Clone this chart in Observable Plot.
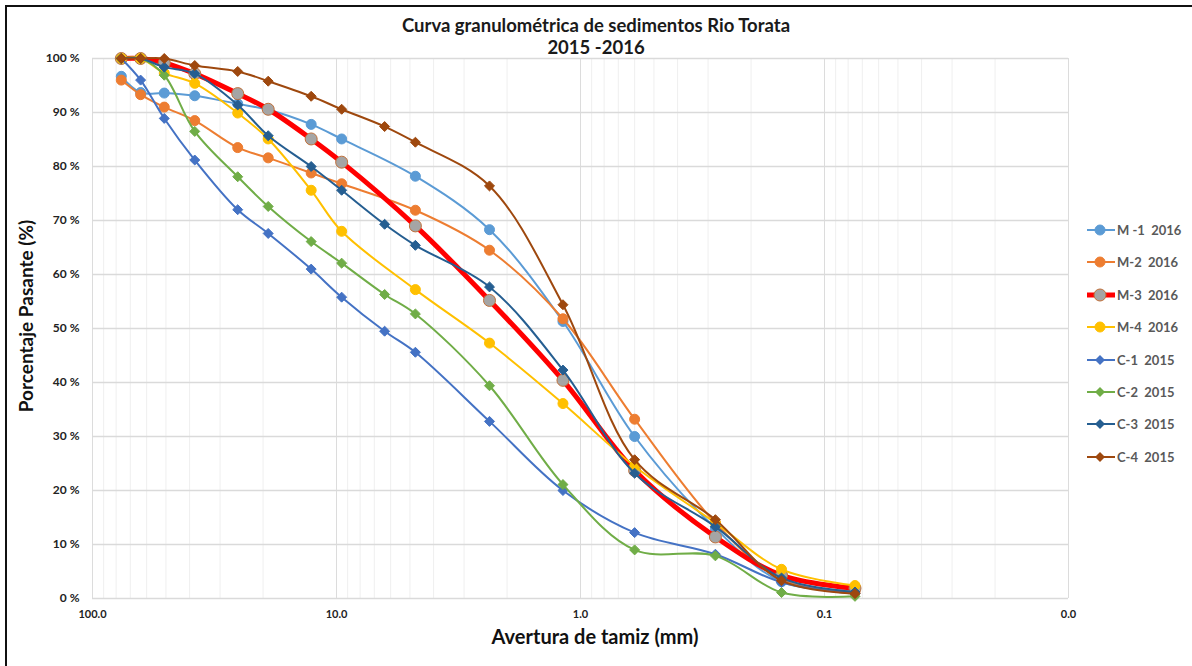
<!DOCTYPE html>
<html>
<head>
<meta charset="utf-8">
<script src="https://cdn.jsdelivr.net/npm/d3@7"></script>
<script src="https://cdn.jsdelivr.net/npm/@observablehq/plot@0.6"></script>
<style>
  body { margin: 0; background: #fff; overflow: hidden; }
  #wrap { position: relative; width: 1192px; height: 666px; overflow: hidden; font-family: Lato, "Open Sans", sans-serif; }
  #frame { position: absolute; left: 5px; top: 5px; width: 1250px; height: 720px; border: 2px solid #111; box-sizing: border-box; pointer-events: none; }
  .title { position: absolute; left: 0; width: 1192px; text-align: center; font-weight: 700; font-size: 18.5px; color: #1a1a1a; line-height: 22px; }
  .axlabel { position: absolute; font-weight: 700; color: #111; white-space: nowrap; }
  #legend { position: absolute; left: 1086px; top: 220px; }
  .item { position: absolute; left: 0; height: 20px; display: flex; align-items: center; white-space: pre; font-weight: 700; font-size: 13px; color: #595959; }
  .item svg { margin-right: 1px; }
  #chart { position: absolute; left: 0; top: 0; }
</style>
</head>
<body>
<div id="wrap">
  <div id="chart"></div>
  <div class="title" style="top:14px">Curva granulométrica de sedimentos Rio Torata</div>
  <div class="title" style="top:36px">2015 -2016</div>
  <div class="axlabel" style="left:595px;top:624px;font-size:20px;transform:translateX(-50%)">Avertura de tamiz (mm)</div>
  <div class="axlabel" style="left:25px;top:316px;font-size:19px;transform:translate(-50%,-50%) rotate(-90deg)">Porcentaje Pasante (%)</div>
  <div id="legend"></div>
  <div id="frame"></div>
</div>
<script>
// Sieve openings (mm); the 2016 samples skip the 6.35 mm sieve
const sizesC = [76.2, 63.5, 50.8, 38.1, 25.4, 19.05, 12.7, 9.525, 6.35, 4.75, 2.36, 1.18, 0.6, 0.28, 0.15, 0.075];
const sizesM = [76.2, 63.5, 50.8, 38.1, 25.4, 19.05, 12.7, 9.525, 4.75, 2.36, 1.18, 0.6, 0.28, 0.15, 0.075];

// Percent passing per sample
const m1 = [96.7, 93.7, 93.6, 93.1, 91.6, 90.5, 87.8, 85.1, 78.2, 68.3, 51.3, 30.0, 13.0, 3.1, 1.5];
const m2 = [96.0, 93.3, 91.0, 88.5, 83.5, 81.6, 78.8, 76.8, 71.9, 64.5, 51.8, 33.2, 14.0, 3.5, 1.2];
const m3 = [100, 100, 99.2, 97.2, 93.5, 90.6, 85.1, 80.8, 69.0, 55.2, 40.4, 23.7, 11.4, 4.3, 1.9];
const m4 = [100, 100, 97.3, 95.4, 89.9, 85.1, 75.6, 68.0, 57.2, 47.3, 36.1, 24.5, 14.0, 5.4, 2.4];
const c1 = [100, 96.0, 88.9, 81.2, 72.0, 67.6, 61.0, 55.8, 49.5, 45.6, 32.8, 20.0, 12.2, 8.2, 3.0, 0.9];
const c2 = [100, 100, 96.9, 86.5, 78.1, 72.6, 66.1, 62.1, 56.3, 52.7, 39.4, 21.1, 9.0, 7.9, 1.1, 0.4];
const c3 = [100, 100, 98.4, 97.2, 91.4, 85.7, 80.0, 75.6, 69.3, 65.4, 57.7, 42.3, 23.2, 13.3, 3.8, 1.2];
const c4 = [100, 100, 100, 98.7, 97.6, 95.8, 93.0, 90.6, 87.4, 84.5, 76.4, 54.4, 25.7, 14.6, 3.3, 0.9];

const seriesNames = ["M -1  2016", "M-2  2016", "M-3  2016", "M-4  2016", "C-1  2015", "C-2  2015", "C-3  2015", "C-4  2015"];
const seriesValues = [m1, m2, m3, m4, c1, c2, c3, c4];
const seriesSizes = [sizesM, sizesM, sizesM, sizesM, sizesC, sizesC, sizesC, sizesC];
const seriesColors = ["#5B9BD5", "#ED7D31", "#FF0000", "#FFC000", "#4472C4", "#70AD47", "#255E91", "#9E480E"];

const xTicks = [100, 10, 1, 0.1, 0.01];
const yTicks = d3.range(0, 101, 10);

// Log grid: 1..9 within each decade from 0.01 to 100
const minorGrid = [];
for (let e = -2; e <= 1; e++) for (let k = 1; k <= 9; k++) minorGrid.push(k * Math.pow(10, e));
minorGrid.push(100);

const style = (i) => {
  const isM = i < 4;
  const c = seriesColors[i];
  return {
    lineWidth: i === 2 ? 5 : 2,
    symbol: isM ? "circle" : "diamond2",
    r: i === 2 ? 6 : (isM ? 5 : 4.5),
    fill: i === 2 ? "#A5A5A5" : c,
    stroke: i === 2 ? "#C0703A" : c
  };
};

const marks = [
  Plot.ruleX(minorGrid, {stroke: "#efefef", strokeWidth: 1}),
  Plot.ruleX(xTicks, {stroke: "#dcdcdc", strokeWidth: 1}),
  Plot.ruleY(yTicks, {stroke: "#dadada", strokeWidth: 1.3}),
  Plot.axisX({ticks: xTicks, tickFormat: d => d.toFixed(1), tickSize: 0, tickPadding: 12, fontSize: 11, fontWeight: "bold", label: null}),
  Plot.axisY({ticks: yTicks, tickFormat: d => d + " %", tickSize: 0, tickPadding: 13, fontSize: 12, fontWeight: "bold", label: null})
];

seriesValues.forEach((vals, i) => {
  const data = vals.map((v, j) => ({size: seriesSizes[i][j], pct: v}));
  const s = style(i);
  marks.push(Plot.line(data, {x: "size", y: "pct", stroke: seriesColors[i], strokeWidth: s.lineWidth, curve: "catmull-rom"}));
  marks.push(Plot.dot(data, {x: "size", y: "pct", symbol: s.symbol, r: s.r, fill: s.fill, stroke: s.stroke, strokeWidth: 1}));
});

const chart = Plot.plot({
  width: 1192,
  height: 666,
  marginLeft: 92,
  marginRight: 124,
  marginTop: 58,
  marginBottom: 68,
  style: {background: "transparent", color: "#222", fontFamily: "Lato, 'Open Sans', sans-serif"},
  x: {type: "log", domain: [100, 0.01]},
  y: {domain: [0, 100]},
  marks
});
document.getElementById("chart").appendChild(chart);

// Legend
const legend = document.getElementById("legend");
seriesNames.forEach((name, i) => {
  const s = style(i);
  const item = document.createElement("div");
  item.className = "item";
  item.style.top = (i * 32.4) + "px";
  const sym = s.symbol === "circle"
    ? `<circle cx="14" cy="10" r="${s.r}" fill="${s.fill}" stroke="${s.stroke}"/>`
    : `<path d="M14 ${10 - s.r - 0.5} L${14 + s.r + 0.5} 10 L14 ${10 + s.r + 0.5} L${14 - s.r - 0.5} 10 Z" fill="${s.fill}"/>`;
  item.innerHTML = `<svg width="30" height="20"><line x1="1" x2="29" y1="10" y2="10" stroke="${seriesColors[i]}" stroke-width="${s.lineWidth}"/>${sym}</svg>${name}`;
  legend.appendChild(item);
});
</script>
</body>
</html>
